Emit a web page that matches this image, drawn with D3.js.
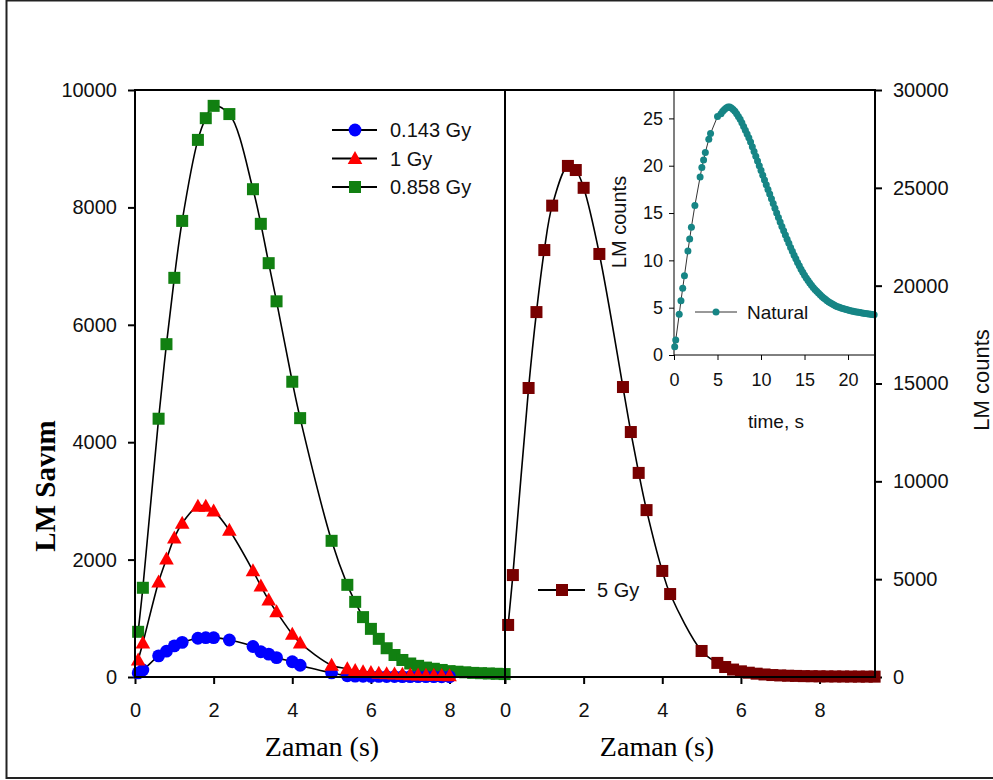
<!DOCTYPE html>
<html><head><meta charset="utf-8">
<script src="https://cdn.jsdelivr.net/npm/d3@7"></script>
<style>body{margin:0;background:#fff} svg{display:block}</style>
</head><body>
<script>
// ---------- DATA ----------
const times = [0.08,0.2,0.6,0.8,1.0,1.2,1.6,1.8,2.0,2.4,3.0,3.2,3.4,3.6,4.0,4.2,5.0,5.4,5.6,5.8,6.0,6.2,6.4,6.6,6.8,7.0,7.2,7.4,7.6,7.8,8.0,8.2,8.4,8.6,8.8,9.0,9.2,9.4];
const gy0858 = [770,1520,4400,5670,6800,7770,9150,9520,9730,9590,8310,7720,7050,6400,5030,4410,2320,1570,1280,1020,820,650,490,375,290,230,190,160,140,120,100,90,80,70,65,60,55,50];
const gy1 = [290,580,1620,2010,2370,2620,2910,2910,2830,2500,1810,1550,1310,1110,730,580,200,140,110,90,75,65,55,50,45,40,35,30,28,25,22];
const gy0143 = [70,120,360,440,530,590,660,670,670,630,520,430,390,330,260,200,70,20,15,12,10,9,8,7,6,6,5,5,5,4,4];
const gy5 = [2660,5210,14770,18650,21820,24090,26120,25910,25000,21620,14820,12520,10430,8530,5420,4240,1330,720,510,380,290,220,170,130,100,80,65,55,45,40,35,30,28,25,23,21,20,18];

const natTimes = [0.08,0.2,0.6,0.8,1.0,1.2,1.6,1.8,2.0,2.4,3.0,3.2,3.4,3.6,4.0,4.2,5.0,5.4,
  5.6,5.8,6.0,6.2,6.4,6.6,6.8,7.0,7.2,7.4,7.6,7.8,8.0,8.2,8.4,8.6,8.8,9.0,9.2,9.4,9.6,9.8,
  10.0,10.2,10.4,10.6,10.8,11.0,11.2,11.4,11.6,11.8,12.0,12.2,12.4,12.6,12.8,13.0,13.2,13.4,13.6,13.8,
  14.0,14.2,14.4,14.6,14.8,15.0,15.2,15.4,15.6,15.8,16.0,16.2,16.4,16.6,16.8,17.0,17.2,17.4,17.6,17.8,
  18.0,18.2,18.4,18.6,18.8,19.0,19.2,19.4,19.6,19.8,20.0,20.2,20.4,20.6,20.8,21.0,21.2,21.4,21.6,21.8,
  22.0,22.2,22.4,22.6,22.8,23.0];
const natural = [0.88,1.58,4.3,5.74,7.04,8.38,11.0,12.25,13.5,15.8,18.8,19.8,20.6,21.4,22.8,23.4,25.2,25.5,
  25.75,25.95,26.1,26.2,26.2,26.1,25.95,25.75,25.5,25.2,24.9,24.55,24.15,23.75,23.35,22.95,22.5,22.0,21.5,21.0,20.5,20.0,
  19.5,19.0,18.5,18.0,17.5,17.0,16.5,16.0,15.5,15.0,14.52,14.05,13.59,13.13,12.68,12.24,11.8,11.37,10.95,10.55,
  10.16,9.78,9.42,9.07,8.74,8.43,8.14,7.87,7.61,7.37,7.14,6.93,6.73,6.54,6.36,6.19,6.03,5.88,5.74,5.61,
  5.49,5.38,5.28,5.19,5.11,5.04,4.97,4.91,4.85,4.8,4.75,4.7,4.66,4.62,4.58,4.54,4.51,4.48,4.45,4.42,
  4.39,4.36,4.33,4.3,4.27,4.25];

const xTicks = [0,2,4,6,8];
const yTicksL = [0,2000,4000,6000,8000,10000];
const yTicksR = [0,5000,10000,15000,20000,25000,30000];
const insetXTicks = [0,5,10,15,20];
const insetYTicks = [0,5,10,15,20,25];
const legendLeft = ["0.143 Gy","1 Gy","0.858 Gy"];
const legendRight = ["5 Gy"];
const legendInset = ["Natural"];

// ---------- STYLE ----------
const SANS = "'Liberation Sans', Arial, sans-serif";
const SERIF = "'Liberation Serif', 'Times New Roman', serif";
const C_GREEN = "#118011", C_RED = "#ff0000", C_BLUE = "#0000ff", C_DRED = "#780000", C_TEAL = "#168585";

const svg = d3.select("body").append("svg").attr("width", 993).attr("height", 780);

// outer frame
svg.append("rect").attr("x", 6.5).attr("y", 0.5).attr("width", 1000).attr("height", 777.5)
  .attr("fill", "none").attr("stroke", "#222").attr("stroke-width", 2);

const xL = d3.scaleLinear().domain([0, 9.41]).range([135, 505]);
const yL = d3.scaleLinear().domain([0, 10000]).range([677, 90]);
const xR = d3.scaleLinear().domain([0, 9.41]).range([505, 875]);
const yR = d3.scaleLinear().domain([0, 30000]).range([677, 90]);

function styleAxis(g, size) {
  g.select(".domain").remove();
  g.selectAll(".tick line").attr("stroke", "#000").attr("stroke-width", 2);
  g.selectAll(".tick text").attr("font-family", SANS).attr("font-size", size).attr("fill", "#111");
}

// axes (ticks + labels)
svg.append("g").attr("transform", "translate(0,677)")
  .call(d3.axisBottom(xL).tickValues(xTicks).tickSize(7).tickPadding(19).tickFormat(d3.format("d")))
  .call(g => styleAxis(g, 20));
svg.append("g").attr("transform", "translate(0,677)")
  .call(d3.axisBottom(xR).tickValues(xTicks).tickSize(7).tickPadding(19).tickFormat(d3.format("d")))
  .call(g => styleAxis(g, 20));
svg.append("g").attr("transform", "translate(135,0)")
  .call(d3.axisLeft(yL).tickValues(yTicksL).tickSize(7).tickPadding(11).tickFormat(d3.format("d")))
  .call(g => styleAxis(g, 20));
svg.append("g").attr("transform", "translate(875,0)")
  .call(d3.axisRight(yR).tickValues(yTicksR).tickSize(7).tickPadding(11).tickFormat(d3.format("d")))
  .call(g => styleAxis(g, 20));

// marker drawing
function marker(g, type, color, x, y) {
  if (type === "square") {
    g.append("rect").attr("x", x - 6).attr("y", y - 6).attr("width", 12).attr("height", 12).attr("fill", color);
  } else if (type === "circle") {
    g.append("circle").attr("cx", x).attr("cy", y).attr("r", 6.4).attr("fill", color);
  } else if (type === "triangle") {
    g.append("path").attr("d", `M${x},${y - 7.5}L${x + 7.3},${y + 5.5}L${x - 7.3},${y + 5.5}Z`).attr("fill", color);
  } else if (type === "dot") {
    g.append("circle").attr("cx", x).attr("cy", y).attr("r", 3.5).attr("fill", color);
  }
}

function series(xs, ys, vals, color, type, lineW) {
  const pts = vals.map((v, i) => [xs(times[i]), ys(v)]);
  const g = svg.append("g");
  g.append("path").attr("d", d3.line().curve(d3.curveCatmullRom.alpha(0.5))(pts))
    .attr("fill", "none").attr("stroke", "#000").attr("stroke-width", lineW);
  pts.forEach(p => marker(g, type, color, p[0], p[1]));
}

series(xL, yL, gy0858, C_GREEN, "square", 1.6);
series(xL, yL, gy0143, C_BLUE, "circle", 1.6);
series(xL, yL, gy1, C_RED, "triangle", 1.6);
series(xR, yR, gy5, C_DRED, "square", 1.6);

// main frame lines
const frame = svg.append("g").attr("stroke", "#000").attr("stroke-width", 2);
frame.append("line").attr("x1", 135).attr("x2", 135).attr("y1", 89).attr("y2", 678);
frame.append("line").attr("x1", 134).attr("x2", 876).attr("y1", 677).attr("y2", 677);
frame.append("line").attr("x1", 134).attr("x2", 876).attr("y1", 90).attr("y2", 90);
frame.append("line").attr("x1", 505).attr("x2", 505).attr("y1", 89).attr("y2", 684);
frame.append("line").attr("x1", 875).attr("x2", 875).attr("y1", 89).attr("y2", 678);

// legends
const legL = svg.append("g");
const legTypes = [["circle", C_BLUE], ["triangle", C_RED], ["square", C_GREEN]];
legendLeft.forEach((name, i) => {
  const y = 130 + i * 28.5;
  legL.append("line").attr("x1", 332).attr("x2", 377).attr("y1", y).attr("y2", y).attr("stroke", "#000").attr("stroke-width", 1.8);
  marker(legL, legTypes[i][0], legTypes[i][1], 355, y);
  legL.append("text").attr("x", 390).attr("y", y + 7).attr("font-family", SANS).attr("font-size", 20).attr("fill", "#111").text(name);
});
const legR = svg.append("g");
legR.append("line").attr("x1", 538).attr("x2", 585).attr("y1", 590).attr("y2", 590).attr("stroke", "#000").attr("stroke-width", 1.8);
marker(legR, "square", C_DRED, 562, 590);
legR.append("text").attr("x", 597).attr("y", 597).attr("font-family", SANS).attr("font-size", 20).attr("fill", "#111").text(legendRight[0]);

// axis titles
svg.append("text").attr("x", 322).attr("y", 756).attr("text-anchor", "middle")
  .attr("font-family", SERIF).attr("font-size", 28).attr("fill", "#000").text("Zaman (s)");
svg.append("text").attr("x", 657).attr("y", 756).attr("text-anchor", "middle")
  .attr("font-family", SERIF).attr("font-size", 28).attr("fill", "#000").text("Zaman (s)");
svg.append("text").attr("transform", "translate(55,486) rotate(-90)").attr("text-anchor", "middle")
  .attr("font-family", SERIF).attr("font-weight", "bold").attr("font-size", 29).attr("fill", "#000").text("LM Savım");
svg.append("text").attr("transform", "translate(989,380) rotate(-90)").attr("text-anchor", "middle")
  .attr("font-family", SANS).attr("font-size", 22).attr("fill", "#111").text("LM counts");

// ---------- INSET ----------
const xI = d3.scaleLinear().domain([0, 23.1]).range([674, 875]);
const yI = d3.scaleLinear().domain([0, 28]).range([355, 90]);
const ins = svg.append("g");
ins.append("rect").attr("x", 674).attr("y", 90).attr("width", 201).attr("height", 265)
  .attr("fill", "#fff").attr("stroke", "#000").attr("stroke-width", 1);
ins.append("g").attr("transform", "translate(0,355)")
  .call(d3.axisBottom(xI).tickValues(insetXTicks).tickSize(5).tickPadding(13).tickFormat(d3.format("d")))
  .call(g => { styleAxis(g, 18); g.selectAll(".tick line").attr("stroke-width", 1); });
ins.append("g").attr("transform", "translate(674,0)")
  .call(d3.axisLeft(yI).tickValues(insetYTicks).tickSize(5).tickPadding(6).tickFormat(d3.format("d")))
  .call(g => { styleAxis(g, 18); g.selectAll(".tick line").attr("stroke-width", 1); });
const natPts = natural.map((v, i) => [xI(natTimes[i]), yI(v)]);
ins.append("path").attr("d", d3.line()(natPts)).attr("fill", "none").attr("stroke", "#333").attr("stroke-width", 1);
natPts.forEach(p => marker(ins, "dot", C_TEAL, p[0], p[1]));
ins.append("line").attr("x1", 695).attr("x2", 737).attr("y1", 312).attr("y2", 312).attr("stroke", "#333").attr("stroke-width", 1);
marker(ins, "dot", C_TEAL, 716, 312);
ins.append("text").attr("x", 747).attr("y", 319).attr("font-family", SANS).attr("font-size", 19).attr("fill", "#111").text(legendInset[0]);
ins.append("text").attr("x", 776).attr("y", 428).attr("text-anchor", "middle")
  .attr("font-family", SANS).attr("font-size", 19).attr("fill", "#111").text("time, s");
ins.append("text").attr("transform", "translate(626,222) rotate(-90)").attr("text-anchor", "middle")
  .attr("font-family", SANS).attr("font-size", 20).attr("fill", "#111").text("LM counts");
// re-stroke main right axis over inset edge
svg.append("line").attr("x1", 875).attr("x2", 875).attr("y1", 89).attr("y2", 678).attr("stroke", "#000").attr("stroke-width", 2);
svg.append("line").attr("x1", 674).attr("x2", 876).attr("y1", 90).attr("y2", 90).attr("stroke", "#000").attr("stroke-width", 2);
</script>
</body></html>
